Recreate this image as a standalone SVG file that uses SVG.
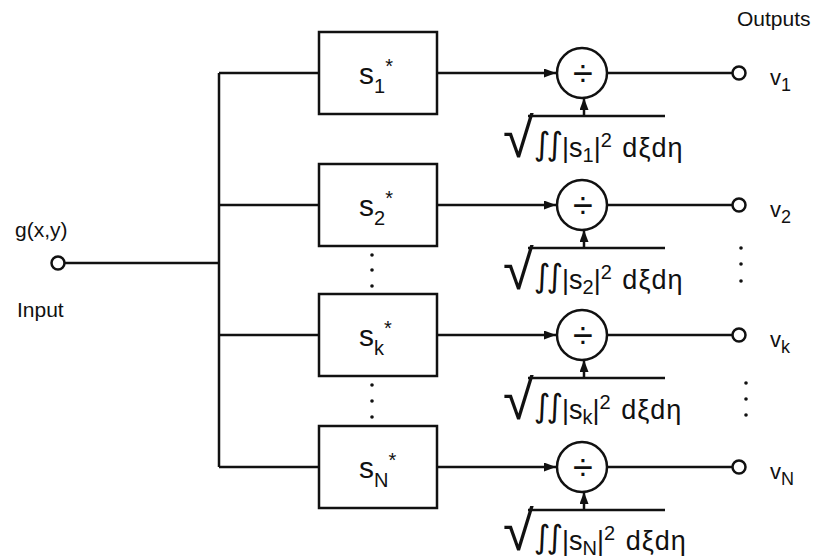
<svg xmlns="http://www.w3.org/2000/svg" width="816" height="560" viewBox="0 0 816 560">
<defs>
<marker id="ah" viewBox="0 0 12 9" refX="12" refY="4.5" markerWidth="12" markerHeight="9" markerUnits="userSpaceOnUse" orient="auto">
<path d="M0,0 L12,4.5 L0,9 z" fill="#111"/>
</marker>
</defs>
<style>
.ln{stroke:#111;stroke-width:2.5;fill:none}
.bx{stroke:#111;stroke-width:2.5;fill:#fff}
.oc{stroke:#111;stroke-width:2.5;fill:#fff}
.t{font-family:"Liberation Sans",Arial,sans-serif;fill:#111}
.lab{font-size:30px}
.sub{font-size:20px}
.ast{font-size:20px}
.f{font-size:27px}
.fs{font-size:20px}
.rd{font-family:"Liberation Sans",Arial,sans-serif;font-size:56px}
.int{font-family:"DejaVu Sans","Liberation Sans",sans-serif;font-size:32px;letter-spacing:-4px}
.dx{letter-spacing:1px}
.div{font-family:"Liberation Sans",Arial,sans-serif;font-size:36px;fill:#111;text-anchor:middle}
.vl{font-size:22px}
.vs{font-size:18px}
.dot{fill:#111}
</style>
<rect width="816" height="560" fill="#fff"/>
<g id="connectors">
<line class="ln" x1="64" y1="263" x2="219" y2="263"/>
<line class="ln" x1="219" y1="73" x2="219" y2="467"/>
<line class="ln" x1="219" y1="73" x2="319" y2="73"/>
<line class="ln" x1="219" y1="205" x2="319" y2="205"/>
<line class="ln" x1="219" y1="335" x2="319" y2="335"/>
<line class="ln" x1="219" y1="467" x2="319" y2="467"/>
<line class="ln" x1="437" y1="73" x2="556" y2="73" marker-end="url(#ah)"/>
<line class="ln" x1="437" y1="205" x2="556" y2="205" marker-end="url(#ah)"/>
<line class="ln" x1="437" y1="335" x2="556" y2="335" marker-end="url(#ah)"/>
<line class="ln" x1="437" y1="467" x2="556" y2="467" marker-end="url(#ah)"/>
<line class="ln" x1="584" y1="116" x2="584" y2="98" marker-end="url(#ah)"/>
<line class="ln" x1="584" y1="248" x2="584" y2="230" marker-end="url(#ah)"/>
<line class="ln" x1="584" y1="378" x2="584" y2="360" marker-end="url(#ah)"/>
<line class="ln" x1="584" y1="510" x2="584" y2="492" marker-end="url(#ah)"/>
<line class="ln" x1="607" y1="73" x2="732" y2="73"/>
<line class="ln" x1="607" y1="205" x2="732" y2="205"/>
<line class="ln" x1="607" y1="335" x2="732" y2="335"/>
<line class="ln" x1="607" y1="467" x2="732" y2="467"/>
</g>
<g id="input">
<circle class="oc" cx="58" cy="263" r="6.5"/>
<text class="t" x="15" y="237" font-size="21">g(x,y)</text>
<text class="t" x="17" y="317" font-size="21">Input</text>
</g>
<g id="outputs-title">
<text class="t" x="737" y="26" font-size="21">Outputs</text>
</g>
<g id="box1">
<rect class="bx" x="319" y="32" width="118" height="82"/>
<text class="t lab" x="359" y="84">s<tspan class="sub" dy="9">1</tspan><tspan class="ast" dy="-20">*</tspan></text>
</g>
<g id="box2">
<rect class="bx" x="319" y="164" width="118" height="82"/>
<text class="t lab" x="359" y="216">s<tspan class="sub" dy="9">2</tspan><tspan class="ast" dy="-20">*</tspan></text>
</g>
<g id="boxk">
<rect class="bx" x="319" y="294" width="118" height="82"/>
<text class="t lab" x="359" y="346">s<tspan class="sub" dy="9">k</tspan><tspan class="ast" dy="-20">*</tspan></text>
</g>
<g id="boxN">
<rect class="bx" x="319" y="426" width="118" height="82"/>
<text class="t lab" x="359" y="478">s<tspan class="sub" dy="9">N</tspan><tspan class="ast" dy="-20">*</tspan></text>
</g>
<g id="div1">
<circle class="oc" cx="582" cy="73" r="25"/>
<text class="div" x="583" y="86">÷</text>
</g>
<g id="div2">
<circle class="oc" cx="582" cy="205" r="25"/>
<text class="div" x="583" y="218">÷</text>
</g>
<g id="divk">
<circle class="oc" cx="582" cy="335" r="25"/>
<text class="div" x="583" y="348">÷</text>
</g>
<g id="divN">
<circle class="oc" cx="582" cy="467" r="25"/>
<text class="div" x="583" y="480">÷</text>
</g>
<g id="norm1">
<line class="ln" x1="528" y1="116" x2="665" y2="116"/>
<text class="t f" x="503" y="157"><tspan class="rd">√</tspan><tspan class="int" dy="-2">∫∫</tspan><tspan dx="3" dy="2">|s</tspan><tspan class="fs" dy="5">1</tspan><tspan dy="-5">|</tspan><tspan class="fs" dy="-10">2</tspan><tspan class="dx" dy="10" dx="2"> dξdη</tspan></text>
</g>
<g id="norm2">
<line class="ln" x1="528" y1="248" x2="665" y2="248"/>
<text class="t f" x="503" y="289"><tspan class="rd">√</tspan><tspan class="int" dy="-2">∫∫</tspan><tspan dx="3" dy="2">|s</tspan><tspan class="fs" dy="5">2</tspan><tspan dy="-5">|</tspan><tspan class="fs" dy="-10">2</tspan><tspan class="dx" dy="10" dx="2"> dξdη</tspan></text>
</g>
<g id="normk">
<line class="ln" x1="528" y1="378" x2="665" y2="378"/>
<text class="t f" x="503" y="419"><tspan class="rd">√</tspan><tspan class="int" dy="-2">∫∫</tspan><tspan dx="3" dy="2">|s</tspan><tspan class="fs" dy="5">k</tspan><tspan dy="-5">|</tspan><tspan class="fs" dy="-10">2</tspan><tspan class="dx" dy="10" dx="2"> dξdη</tspan></text>
</g>
<g id="normN">
<line class="ln" x1="528" y1="510" x2="665" y2="510"/>
<text class="t f" x="503" y="550"><tspan class="rd">√</tspan><tspan class="int" dy="-2">∫∫</tspan><tspan dx="3" dy="2">|s</tspan><tspan class="fs" dy="5">N</tspan><tspan dy="-5">|</tspan><tspan class="fs" dy="-10">2</tspan><tspan class="dx" dy="10" dx="2"> dξdη</tspan></text>
</g>
<g id="out1">
<circle class="oc" cx="739" cy="73" r="6.5"/>
<text class="t vl" x="770" y="85">v<tspan class="vs" dy="6">1</tspan></text>
</g>
<g id="out2">
<circle class="oc" cx="739" cy="205" r="6.5"/>
<text class="t vl" x="770" y="217">v<tspan class="vs" dy="6">2</tspan></text>
</g>
<g id="outk">
<circle class="oc" cx="739" cy="335" r="6.5"/>
<text class="t vl" x="770" y="347">v<tspan class="vs" dy="6">k</tspan></text>
</g>
<g id="outN">
<circle class="oc" cx="739" cy="467" r="6.5"/>
<text class="t vl" x="770" y="479">v<tspan class="vs" dy="6">N</tspan></text>
</g>
<g id="ellipsis">
<circle class="dot" cx="372" cy="255" r="1.8"/>
<circle class="dot" cx="372" cy="270" r="1.8"/>
<circle class="dot" cx="372" cy="286" r="1.8"/>
<circle class="dot" cx="372" cy="385" r="1.8"/>
<circle class="dot" cx="372" cy="401" r="1.8"/>
<circle class="dot" cx="372" cy="417" r="1.8"/>
<circle class="dot" cx="741" cy="248" r="1.8"/>
<circle class="dot" cx="741" cy="264" r="1.8"/>
<circle class="dot" cx="741" cy="281" r="1.8"/>
<circle class="dot" cx="746" cy="383" r="1.8"/>
<circle class="dot" cx="746" cy="399" r="1.8"/>
<circle class="dot" cx="746" cy="415" r="1.8"/>
</g>
</svg>
